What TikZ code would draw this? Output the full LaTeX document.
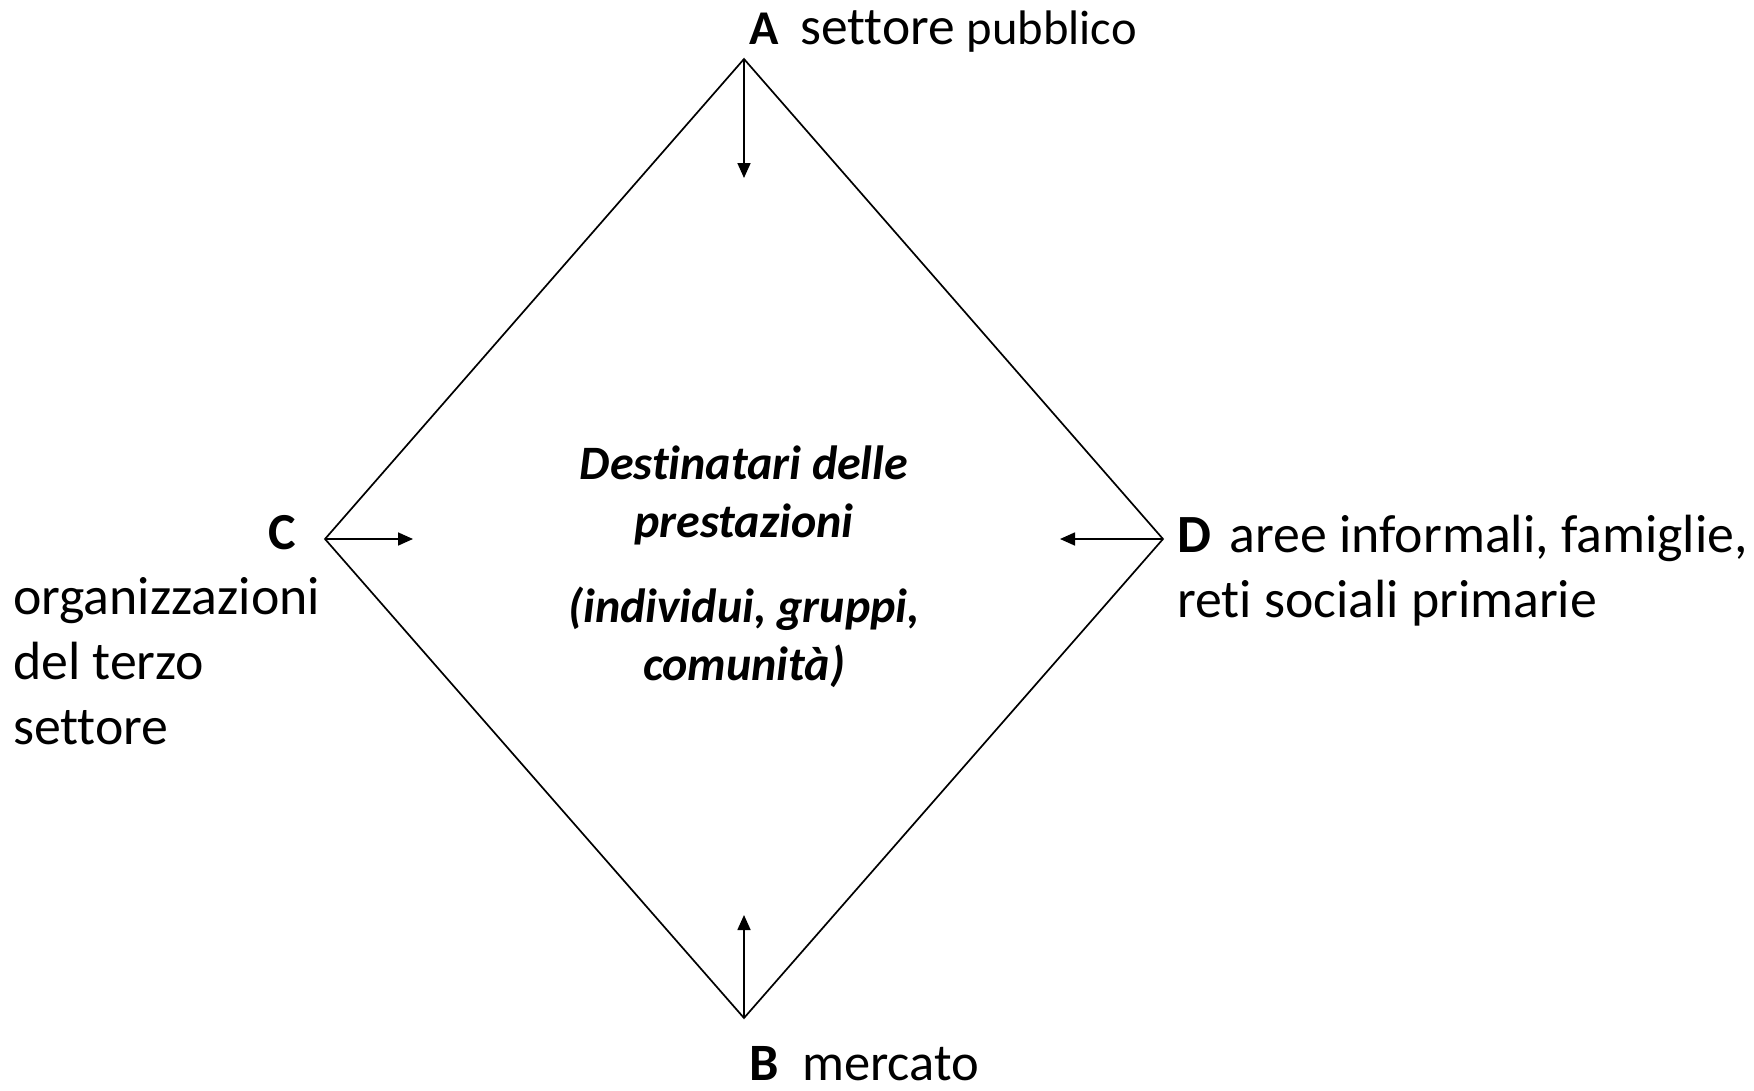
\documentclass[tikz,border=0pt]{standalone}
\usepackage{fontspec}
\setmainfont{Carlito}[Ligatures=NoCommon]
\usetikzlibrary{arrows.meta}
\begin{document}
\begin{tikzpicture}[x=1pt,y=-1pt,
  edge/.style={line width=1.7pt, line join=miter},
  push/.style={line width=1.7pt, -{Triangle[length=15pt,width=13pt]}},
  lab/.style={inner sep=0pt, outer sep=0pt, anchor=base west, font=\fontsize{53.8}{65}\selectfont},
  centre/.style={inner sep=0pt, anchor=base, font=\fontsize{48}{58}\selectfont\bfseries\itshape}]
\useasboundingbox (0,0) rectangle (1754,1090);
\fill[white] (0,0) rectangle (1754,1090);
% diamond vertices
\coordinate (top) at (744,59);
\coordinate (bot) at (744,1018);
\coordinate (lft) at (325,539);
\coordinate (rgt) at (1163,539);
\draw[edge] (top) -- (rgt) -- (bot) -- (lft) -- cycle;
% arrow tips
\coordinate (tA) at (744,178);
\coordinate (tB) at (744,915);
\coordinate (tC) at (413,539);
\coordinate (tD) at (1060,539);
\draw[push] (top) -- (tA);
\draw[push] (bot) -- (tB);
\draw[push] (lft) -- (tC);
\draw[push] (rgt) -- (tD);
% labels
\node[lab] (la) at (749,44) {\fontsize{48.5}{56}\selectfont\textbf{A}\hspace{0.45em}\fontsize{53.5}{64}\selectfont settore \fontsize{48.5}{56}\selectfont pubblico};
\node[lab, font=\fontsize{52.5}{64}\selectfont] (lb) at (749,1080) {\textbf{B}\hspace{0.45em}mercato};
\node[lab, font=\fontsize{52}{64}\selectfont] (lc) at (268,549) {\textbf{C}};
\node[lab, align=left, anchor=north west] (lc2) at (13,577) {organizzazioni\\del terzo\\settore};
\node[lab, align=left, anchor=north west] (ld) at (1177,515) {\textbf{D}\hspace{0.35em}aree informali, famiglie,\\reti sociali primarie};
% centre text
\node[centre] (c1) at (744,479) {Destinatari delle};
\node[centre] (c2) at (744,537) {prestazioni};
\node[centre] (c3) at (744,622) {(individui, gruppi,};
\node[centre] (c4) at (744,680) {comunità)};
\end{tikzpicture}
\end{document}
